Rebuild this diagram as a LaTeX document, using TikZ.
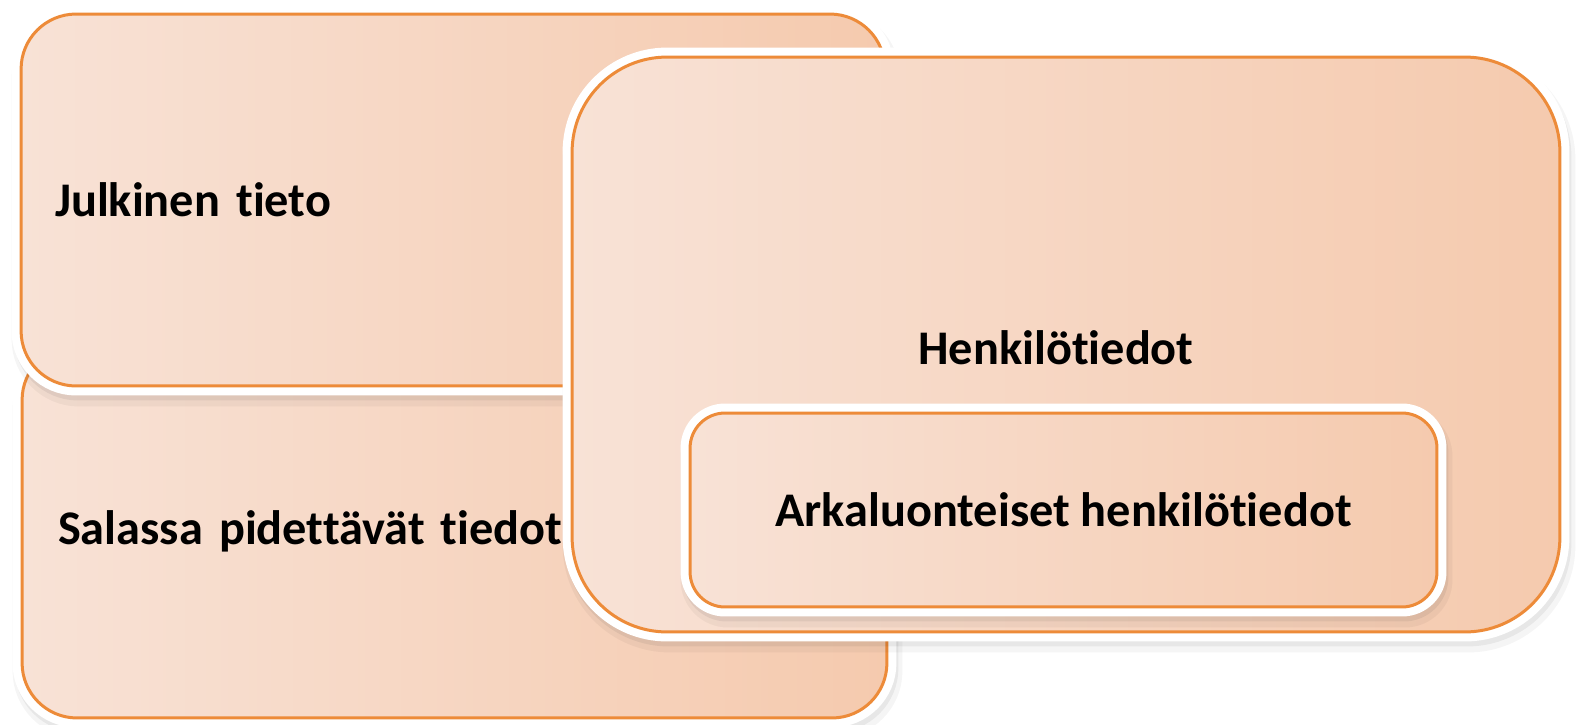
\documentclass[tikz,border=0pt]{standalone}
\usepackage{fontspec}
\setmainfont{Carlito}[Ligatures=NoCommon]
\usetikzlibrary{shadows}

\definecolor{rimorange}{HTML}{ED8B39}
\definecolor{filllight}{HTML}{F8E2D6}
\definecolor{filldark}{HTML}{F5CAAE}

\tikzset{
  boxfont/.style={font=\bfseries\fontsize{27.5}{33}\selectfont, text=black},
  infobox/.style={draw=rimorange, line width=0.06cm,
    left color=filllight, right color=filldark,
    general shadow={draw=black, fill=black, line width=0.38cm, opacity=0.06,
      shadow xshift=0.04cm, shadow yshift=-0.1cm},
    general shadow={draw=black, fill=black, line width=0.5cm, opacity=0.04,
      shadow xshift=0.06cm, shadow yshift=-0.16cm},
    preaction={draw=white, line width=0.38cm},
    boxfont},
}

\begin{document}
\begin{tikzpicture}[x=0.02cm, y=-0.02cm]
\useasboundingbox (0,0) rectangle (1578,724);

% salassa pidettavat, under the public one
\node[infobox, rounded corners=1.1cm, minimum width=17.3cm, minimum height=7.46cm,
  text width=15.86cm, inner xsep=0.72cm, align=left] (secret) at (454.5,531.5) {Salassa pidettävät tiedot};

% julkinen tieto
\node[infobox, rounded corners=1.1cm, minimum width=17.28cm, minimum height=7.44cm,
  text width=15.92cm, inner xsep=0.68cm, align=left] (public) at (453,200) {Julkinen tieto};

% henkilotiedot
\node[infobox, rounded corners=1.9cm, minimum width=19.76cm, minimum height=11.5cm] (personal) at (1066,344.5) {};
\node[boxfont] (personaltxt) at (1056,348) {Henkilötiedot};

% arkaluonteiset
\node[infobox, rounded corners=0.7cm, minimum width=14.94cm, minimum height=3.88cm] (sensitive) at (1063.5,510) {Arkaluonteiset henkilötiedot};

\end{tikzpicture}
\end{document}
